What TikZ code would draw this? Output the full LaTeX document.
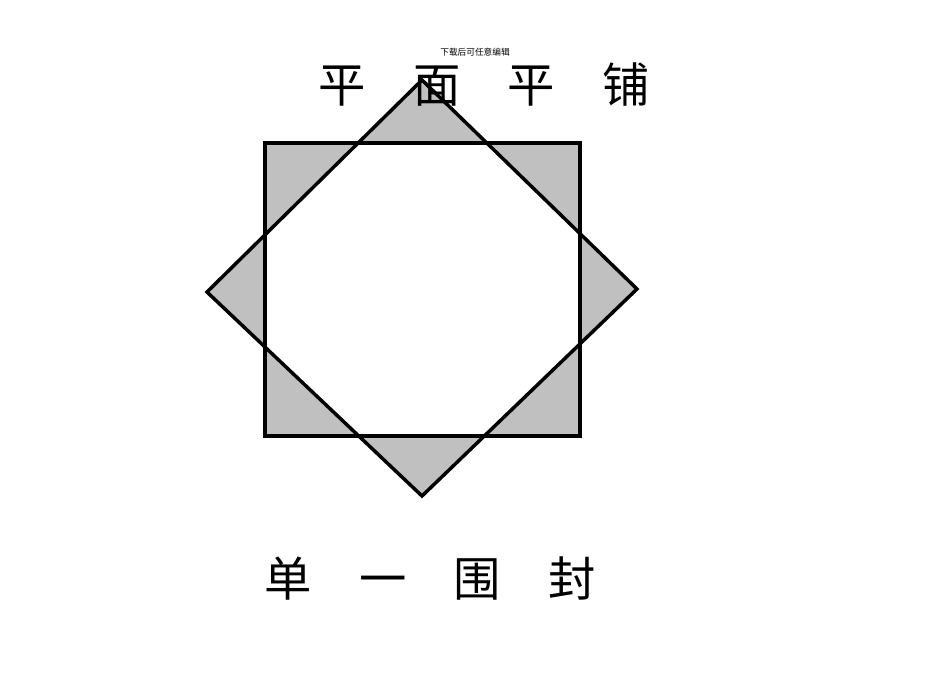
\documentclass[tikz,border=0pt]{standalone}
\usepackage{fontspec}
\newfontfamily\cjk{Noto Sans CJK SC}
\usepackage{tikz}
\usetikzlibrary{positioning}
\definecolor{cornergray}{HTML}{c0c0c0}

\begin{document}
\begin{tikzpicture}[
    x=0.75pt, y=-0.75pt,
    outline/.style = {draw=black, line width=2.6pt, line join=miter},
    title/.style = {font=\cjk\fontsize{35.5}{36}\selectfont, inner sep=0pt},
    note/.style = {font=\cjk\fontsize{6.5}{7}\selectfont, inner sep=0pt},
]
    \useasboundingbox (0,0) rectangle (950,672);

    % square corners
    \coordinate (sqTL) at (265,143);
    \coordinate (sqTR) at (580,143);
    \coordinate (sqBR) at (580,436);
    \coordinate (sqBL) at (265,436);
    % diamond corners
    \coordinate (dmT) at (422,80);
    \coordinate (dmR) at (637,289);
    \coordinate (dmB) at (422,496);
    \coordinate (dmL) at (207,292);

    % gray corners, white octagon
    \fill[cornergray, even odd rule]
        (sqTL) -- (sqTR) -- (sqBR) -- (sqBL) -- cycle
        (dmT) -- (dmR) -- (dmB) -- (dmL) -- cycle;
    \draw[outline] (sqTL) -- (sqTR) -- (sqBR) -- (sqBL) -- cycle;
    \draw[outline] (dmT) -- (dmR) -- (dmB) -- (dmL) -- cycle;

    % labels
    \node[note] (hint) at (475,52) {下载后可任意编辑};
    \node[title] (toplabel) at (484,85) {平　面　平　铺};
    \node[title] (bottomlabel) at (430,578) {单　一　围　封};

\end{tikzpicture}
\end{document}
